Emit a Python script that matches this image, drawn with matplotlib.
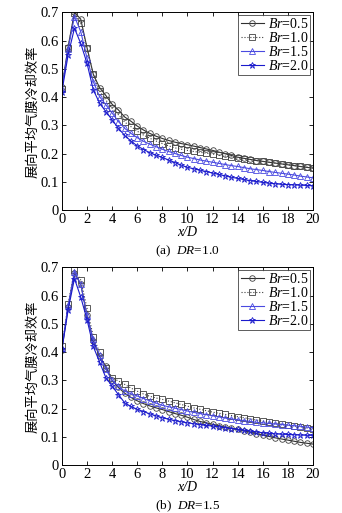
import numpy as np
import matplotlib
matplotlib.use("Agg")
import matplotlib.pyplot as plt

plt.rcParams['font.family'] = ['Liberation Serif', 'Noto Sans CJK SC']
plt.rcParams['mathtext.fontset'] = 'custom'
plt.rcParams['mathtext.rm'] = 'Liberation Serif'
plt.rcParams['mathtext.it'] = 'Liberation Serif:italic'

# x/D positions, every 0.5 from 0 to 20
x = np.arange(0, 20.01, 0.5)

# (a) DR = 1.0
a_br05 = [0.435, 0.579, 0.700, 0.676, 0.575, 0.481, 0.434, 0.406, 0.375, 0.355,
          0.330, 0.315, 0.298, 0.284, 0.272, 0.262, 0.254, 0.247, 0.241, 0.236,
          0.232, 0.227, 0.222, 0.217, 0.212, 0.206, 0.200, 0.194, 0.188, 0.184,
          0.180, 0.176, 0.173, 0.170, 0.167, 0.164, 0.161, 0.158, 0.155, 0.152, 0.149]
a_br10 = [0.430, 0.575, 0.697, 0.661, 0.575, 0.481, 0.422, 0.390, 0.361, 0.338,
          0.312, 0.296, 0.280, 0.266, 0.255, 0.245, 0.236, 0.228, 0.221, 0.216,
          0.212, 0.208, 0.205, 0.202, 0.199, 0.195, 0.192, 0.189, 0.185, 0.182,
          0.179, 0.176, 0.173, 0.170, 0.167, 0.164, 0.161, 0.158, 0.155, 0.153, 0.151]
a_br15 = [0.430, 0.572, 0.685, 0.632, 0.538, 0.455, 0.402, 0.373, 0.344, 0.314,
          0.290, 0.272, 0.257, 0.244, 0.234, 0.225, 0.216, 0.208, 0.201, 0.194,
          0.188, 0.183, 0.178, 0.174, 0.170, 0.166, 0.162, 0.158, 0.155, 0.151,
          0.147, 0.144, 0.141, 0.137, 0.134, 0.131, 0.128, 0.125, 0.121, 0.118, 0.115]
a_br20 = [0.420, 0.550, 0.644, 0.590, 0.520, 0.426, 0.379, 0.349, 0.320, 0.290,
          0.265, 0.245, 0.228, 0.215, 0.204, 0.195, 0.187, 0.178, 0.169, 0.160,
          0.152, 0.147, 0.142, 0.137, 0.132, 0.127, 0.122, 0.117, 0.113, 0.109,
          0.105, 0.102, 0.099, 0.096, 0.094, 0.092, 0.091, 0.090, 0.089, 0.088, 0.087]

# (b) DR = 1.5
b_br05 = [0.409, 0.560, 0.680, 0.640, 0.530, 0.440, 0.385, 0.350, 0.300, 0.275,
          0.255, 0.240, 0.228, 0.218, 0.210, 0.203, 0.197, 0.190, 0.183, 0.177,
          0.170, 0.162, 0.155, 0.150, 0.145, 0.140, 0.135, 0.131, 0.127, 0.122,
          0.117, 0.112, 0.107, 0.102, 0.097, 0.093, 0.089, 0.085, 0.081, 0.078, 0.075]
b_br10 = [0.420, 0.570, 0.690, 0.655, 0.555, 0.455, 0.400, 0.345, 0.310, 0.298,
          0.286, 0.273, 0.262, 0.252, 0.244, 0.238, 0.233, 0.227, 0.221, 0.215,
          0.209, 0.203, 0.198, 0.193, 0.188, 0.184, 0.180, 0.176, 0.172, 0.168,
          0.164, 0.160, 0.156, 0.152, 0.148, 0.145, 0.142, 0.139, 0.136, 0.132, 0.129]
b_br15 = [0.415, 0.565, 0.685, 0.640, 0.530, 0.445, 0.390, 0.340, 0.300, 0.280,
          0.262, 0.253, 0.245, 0.236, 0.228, 0.220, 0.212, 0.207, 0.202, 0.197,
          0.192, 0.187, 0.183, 0.179, 0.175, 0.171, 0.167, 0.164, 0.161, 0.158,
          0.155, 0.152, 0.150, 0.148, 0.146, 0.144, 0.142, 0.140, 0.138, 0.135, 0.133]
b_br20 = [0.410, 0.550, 0.660, 0.595, 0.515, 0.420, 0.365, 0.310, 0.280, 0.250,
          0.221, 0.208, 0.198, 0.190, 0.182, 0.175, 0.168, 0.163, 0.158, 0.154,
          0.150, 0.147, 0.144, 0.141, 0.139, 0.136, 0.133, 0.130, 0.127, 0.124,
          0.121, 0.118, 0.115, 0.113, 0.111, 0.110, 0.109, 0.108, 0.107, 0.106, 0.106]

labels = [r'$\mathit{Br}$=0.5', r'$\mathit{Br}$=1.0', r'$\mathit{Br}$=1.5', r'$\mathit{Br}$=2.0']
styles = [dict(color='#303030', ls='-', marker='o', mec='#404040'),
          dict(color='#404040', ls=':', marker='s', mec='#404040'),
          dict(color='#4a4ae0', ls='-', marker='^', mec='#4a4ae0'),
          dict(color='#1a1acc', ls='-', marker='*', mec='#1a1acc')]

fig = plt.figure(figsize=(3.42, 5.13), dpi=100)
ax1 = fig.add_axes([0.181, 0.590, 0.734, 0.386])
ax2 = fig.add_axes([0.181, 0.093, 0.734, 0.386])

panels = [(ax1, [a_br05, a_br10, a_br15, a_br20], '(a)  $\\mathit{DR}$=1.0'),
          (ax2, [b_br05, b_br10, b_br15, b_br20], '(b)  $\\mathit{DR}$=1.5')]

for ax, series, cap in panels:
    for ys, lab, st in zip(series, labels, styles):
        ms = 5 if st['marker'] == '*' else 4
        ax.plot(x, ys, lw=0.8, ms=ms, mfc='none', mew=0.6, label=lab, **st)
    ax.set_xlim(0, 20)
    ax.set_ylim(0, 0.7)
    ax.set_xticks(np.arange(0, 21, 2))
    ax.set_yticks(np.arange(0, 0.71, 0.1))
    ax.set_yticklabels(['0', '0.1', '0.2', '0.3', '0.4', '0.5', '0.6', '0.7'])
    ax.tick_params(direction='in', top=True, right=True, length=3, width=0.6,
                   labelsize=10.5, pad=2)
    for sp in ax.spines.values():
        sp.set_linewidth(0.7)
    ax.set_xlabel('x/D', fontsize=10, style='italic', labelpad=0)
    ax.set_ylabel('展向平均气膜冷却效率', fontsize=9.5, family=['Noto Sans CJK SC'], labelpad=1)
    leg = ax.legend(loc='upper right', fontsize=10, frameon=True, fancybox=False,
                    edgecolor='#333333', handlelength=1.7, borderpad=0.15,
                    labelspacing=0.0, handletextpad=0.25, borderaxespad=0.2)
    leg.get_frame().set_linewidth(0.7)
    ax.text(0.5, -0.205, cap, transform=ax.transAxes, ha='center', va='center', fontsize=9.5)

fig.savefig('out.png', dpi=100)
